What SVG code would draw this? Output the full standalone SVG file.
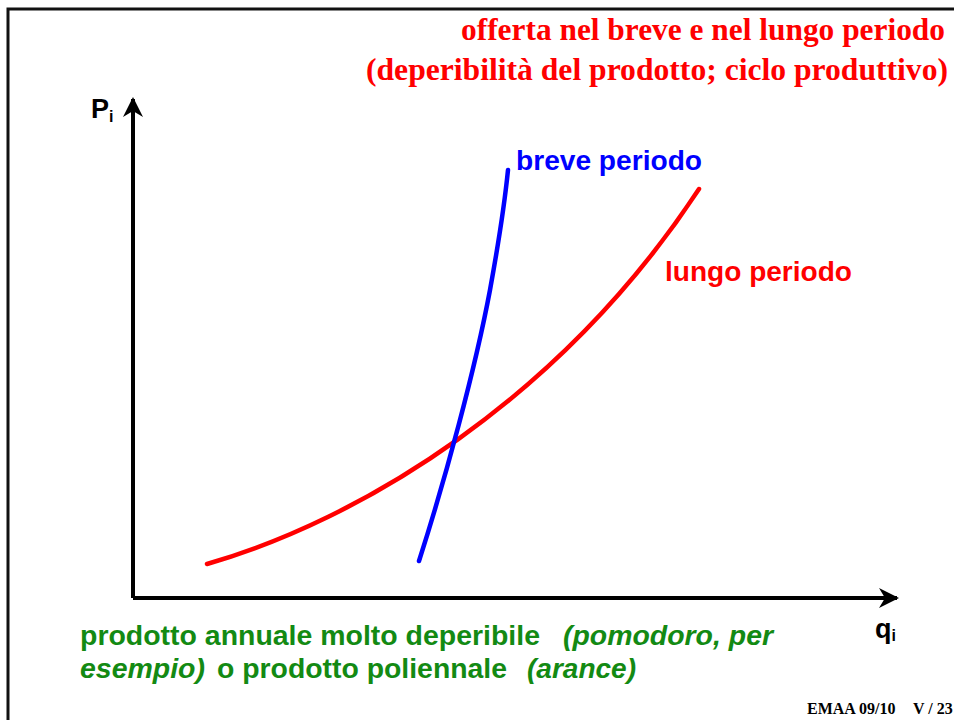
<svg xmlns="http://www.w3.org/2000/svg" width="954" height="720" viewBox="0 0 954 720">
<defs>
<style>
.title{font-family:"Liberation Serif","Times New Roman",serif;font-weight:bold;font-size:32px;fill:#ff0000}
.lab{font-family:"Liberation Sans",Arial,sans-serif;font-weight:bold;font-size:27px}
.green{font-family:"Liberation Sans",Arial,sans-serif;font-weight:bold;font-size:27px;fill:#138a13}
.it{font-style:italic}
.axis{stroke:#000;stroke-width:4;fill:none}
.curve{fill:none;stroke-width:4.5;stroke-linecap:round}
</style>
<marker id="arr" viewBox="0 0 10 10" refX="9" refY="5" markerWidth="5" markerHeight="6.5" markerUnits="strokeWidth" orient="auto">
<path d="M0,0 L10,5 L0,10 L3,5 z" fill="#000"/>
</marker>
</defs>
<rect width="954" height="720" fill="#fff"/>
<rect x="8" y="9" width="970" height="730" fill="none" stroke="#111" stroke-width="3"/>
<g id="title">
<text class="title" x="461" y="40" textLength="484" lengthAdjust="spacingAndGlyphs">offerta nel breve e nel lungo periodo</text>
<text class="title" x="366" y="80" textLength="582" lengthAdjust="spacingAndGlyphs">(deperibilità del prodotto; ciclo produttivo)</text>
</g>
<g id="connectors">
<path class="axis" d="M133,598 L133,99" marker-end="url(#arr)"/>
<path class="axis" d="M133,598 L897,598" marker-end="url(#arr)"/>
</g>
<g id="yaxis-label">
<text class="lab" x="91" y="118">P<tspan font-size="16" dy="4">i</tspan></text>
</g>
<g id="xaxis-label">
<text class="lab" x="875" y="638">q<tspan font-size="16" dy="3">i</tspan></text>
</g>
<g id="lungo-periodo">
<path class="curve" stroke="#ff0000" d="M207,564 C360,520 560,400 699,189"/>
<text class="lab" x="665" y="281" fill="#ff0000" textLength="187" lengthAdjust="spacingAndGlyphs">lungo periodo</text>
</g>
<g id="breve-periodo">
<path class="curve" stroke="#0000ff" d="M419,561 C445,480 475,370 490,290 C500,235 505,200 508,170"/>
<text class="lab" x="516" y="170" fill="#0000ff" textLength="186" lengthAdjust="spacingAndGlyphs">breve periodo</text>
</g>
<g id="caption">
<text class="green" x="80" y="645" textLength="460" lengthAdjust="spacingAndGlyphs">prodotto annuale molto deperibile</text>
<text class="green it" x="563" y="645" textLength="210" lengthAdjust="spacingAndGlyphs">(pomodoro, per</text>
<text class="green it" x="80" y="678" textLength="125" lengthAdjust="spacingAndGlyphs">esempio)</text>
<text class="green" x="217" y="678" textLength="290" lengthAdjust="spacingAndGlyphs">o prodotto poliennale</text>
<text class="green it" x="527" y="678" textLength="109" lengthAdjust="spacingAndGlyphs">(arance)</text>
</g>
<g id="footer">
<text x="807" y="714" font-family="'Liberation Serif','Times New Roman',serif" font-weight="bold" font-size="16" fill="#000">EMAA 09/10</text>
<text x="913" y="714" font-family="'Liberation Serif','Times New Roman',serif" font-weight="bold" font-size="16" fill="#000">V / 23</text>
</g>
</svg>
